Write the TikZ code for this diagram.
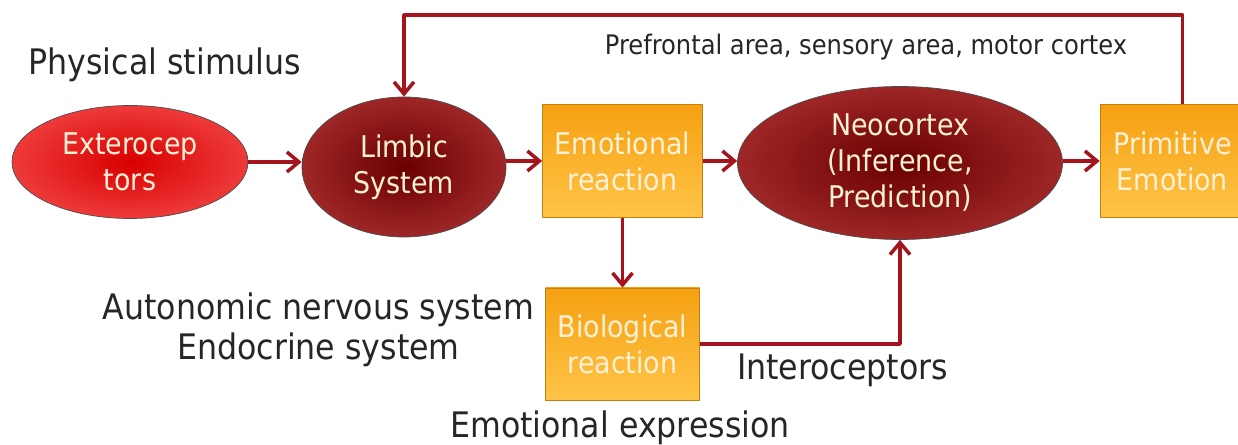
\documentclass[tikz,border=0pt]{standalone}
\usepackage{fontspec}
\setmainfont{DejaVu Sans Condensed}
\usetikzlibrary{shapes.geometric,arrows.meta}
\definecolor{linkred}{HTML}{A3141C}
\definecolor{brightred}{HTML}{D80000}
\definecolor{paleRed}{HTML}{EE3A3A}
\definecolor{darkred}{HTML}{6A0000}
\definecolor{midred}{HTML}{9E2626}
\definecolor{boxorange}{HTML}{F5A011}
\definecolor{boxlight}{HTML}{FFC447}
\definecolor{cream}{HTML}{FFF1D6}
\tikzset{
	organ/.style={ellipse,draw=black!70,thin,text=cream,align=center,
		font=\fontsize{17}{20.5}\selectfont,inner sep=0pt},
	bright/.style={organ,inner color=brightred,outer color=paleRed},
	deep/.style={organ,inner color=darkred,outer color=midred},
	reactbox/.style={rectangle,draw=boxorange!80!black,thin,top color=boxorange,
		bottom color=boxlight,text=cream,align=center,
		font=\fontsize{17}{20.5}\selectfont,inner sep=0pt},
	link/.style={draw=linkred,line width=2pt,-{Straight Barb[length=2.4mm,width=4mm]}},
	caption/.style={font=\fontsize{20}{23}\selectfont,text=black!85,align=center},
}
\begin{document}
\begin{tikzpicture}[line join=round]
	\useasboundingbox (0,0) rectangle (24.76,-8.9);
	% main chain
	\node[bright,minimum width=4.72cm,minimum height=2.26cm] (extero) at (2.6,-3.24) {Exterocep\\tors};
	\node[deep,minimum width=4.08cm,minimum height=2.8cm] (limbic) at (8.08,-3.34) {Limbic\\System};
	\node[reactbox,minimum width=3.2cm,minimum height=2.26cm] (emoreact) at (12.45,-3.22) {Emotional\\reaction};
	\node[deep,minimum width=6.5cm,minimum height=3.06cm] (neo) at (18.0,-3.26) {Neocortex\\(Inference,\\Prediction)};
	\node[reactbox,minimum width=2.9cm,minimum height=2.26cm] (prim) at (23.45,-3.22) {Primitive\\Emotion};
	\node[reactbox,minimum width=3.08cm,minimum height=2.24cm] (bio) at (12.45,-6.88) {Biological\\reaction};
	\coordinate (loop) at (12,-0.3);
	% labels
	\node[caption,anchor=west] (phys) at (0.45,-1.3) {Physical stimulus};
	\node[caption,font=\fontsize{15.3}{18}\selectfont] (cortex) at (17.32,-0.94) {Prefrontal area, sensory area, motor cortex};
	\node[caption] (auto) at (6.37,-6.6) {Autonomic nervous system\\Endocrine system};
	\node[caption] (intero) at (16.85,-7.4) {Interoceptors};
	\node[caption] (express) at (12.4,-8.56) {Emotional expression};
	% connectors
	\draw[link] (extero) -- (limbic.west |- extero);
	\draw[link] (limbic.east |- emoreact) -- (emoreact);
	\draw[link] (emoreact) -- (neo.west |- emoreact);
	\draw[link] (neo.east |- prim) -- (prim);
	\draw[link] (emoreact) -- (bio);
	\draw[link] (bio.east) -| (neo.south);
	\draw[link] ([xshift=2mm]prim.north) |- (loop) -| (limbic.north);
\end{tikzpicture}
\end{document}
